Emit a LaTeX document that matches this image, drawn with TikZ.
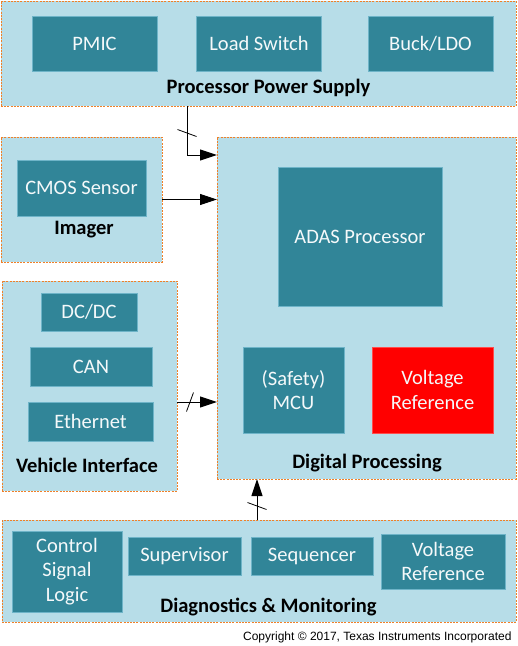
\documentclass[tikz,border=0pt]{standalone}
\usepackage{fontspec}
\setmainfont{Carlito}
\newfontfamily\copyfont{Liberation Sans}
\definecolor{tilight}{RGB}{183,221,232}
\definecolor{titeal}{RGB}{49,133,152}
\definecolor{tiedge}{RGB}{110,180,200}
\definecolor{tiorange}{RGB}{240,128,40}
\definecolor{tired}{RGB}{255,0,0}
\usetikzlibrary{arrows.meta}
\usetikzlibrary{decorations.markings}
\tikzset{
  group/.style={fill=tilight, draw=tiorange, line width=1pt, dash pattern=on 2pt off 1.2pt,
    inner sep=0pt, outer sep=0pt},
  block/.style={fill=titeal, draw=tiedge, line width=0.7pt, text=white!95!titeal,
    inner sep=0pt, outer sep=0pt, align=center,
    font=\fontsize{20.5}{24.5}\selectfont},
  grouplabel/.style={font=\fontsize{20.5}{24.5}\selectfont\bfseries},
  link/.style={line width=1pt, -{Triangle[length=17pt,width=11pt]}},
  bus/.style={link, postaction={decorate}, decoration={markings,
    mark=at position #1 with {\draw[arrows=-, line width=0.8pt] (-3.5pt,-9.5pt) -- (3.5pt,9.5pt);}}}
}

\begin{document}
\begin{tikzpicture}[x=1pt, y=-1pt]
  \useasboundingbox (0,0) rectangle (518,646);

  % processor power supply
  \node [group, minimum width=515, minimum height=105] (pwr) at (258.5,53.5) {};
  \foreach \name/\x/\txt in {pmic/94.5/PMIC, lsw/259/Load Switch, buck/430.5/{Buck/LDO}} {
    \node [block, minimum width=125, minimum height=55] (\name) at (\x,43.5) {\txt};
  }
  \node [grouplabel] (pwrlbl) at (268.5,88) {Processor Power Supply};

  % imager
  \node [group, minimum width=161, minimum height=125] (imgr) at (81.5,199.5) {};
  \node [block, minimum width=129, minimum height=56] (cmos) at (81.5,188) {CMOS Sensor};
  \node [grouplabel] (imgrlbl) at (84,230) {Imager};

  % digital processing
  \node [group, minimum width=299, minimum height=342] (dp) at (366.5,308) {};
  \node [block, minimum width=164, minimum height=139] (adas) at (360,236.5) {ADAS Processor};
  \node [block, minimum width=101, minimum height=86] (mcu) at (293.5,390) {(Safety)\\MCU};
  \node [block, fill=tired, draw=tired!70!white, minimum width=121, minimum height=86] (vref) at (432.5,390) {Voltage\\Reference};
  \node [grouplabel] (dplbl) at (367,463) {Digital Processing};

  % vehicle interface
  \node [group, minimum width=175, minimum height=210] (veh) at (89.5,386) {};
  \node [block, minimum width=96, minimum height=38] (dcdc) at (89,312) {DC/DC};
  \node [block, minimum width=122, minimum height=39] (can) at (91,366.5) {CAN};
  \node [block, minimum width=125, minimum height=39] (eth) at (90.5,421.5) {Ethernet};
  \node [grouplabel] (vehlbl) at (87,465) {Vehicle Interface};

  % diagnostics and monitoring
  \node [group, minimum width=514, minimum height=102] (diag) at (259,571) {};
  \node [block, minimum width=110, minimum height=81] (csl) at (67,571.5) {Control\\Signal\\Logic};
  \node [block, minimum width=113, minimum height=38] (sup) at (184.5,556) {Supervisor};
  \node [block, minimum width=122, minimum height=38] (seq) at (312,556) {Sequencer};
  \node [block, minimum width=124, minimum height=55] (dvref) at (443,561.5) {Voltage\\Reference};
  \node [grouplabel] (diaglbl) at (268.5,607) {Diagnostics \& Monitoring};

  % connections
  \draw [bus=27pt] ([xshift=-71.5pt]pwr.south) |- ([yshift=-18pt]dp.north west);
  \draw [link] (imgr.east) -- (imgr.east -| dp.west);
  \draw [bus=13pt] ([yshift=-16pt]veh.east) -- ([yshift=-16pt]veh.east -| dp.west);
  \draw [bus=14pt] ([xshift=-2pt]diag.north) -- ([xshift=-2pt]diag.north |- dp.south);

  \node [anchor=east, font=\copyfont\fontsize{12}{14}\selectfont] (copy) at (515,637) {Copyright © 2017, Texas Instruments Incorporated};
\end{tikzpicture}
\end{document}
